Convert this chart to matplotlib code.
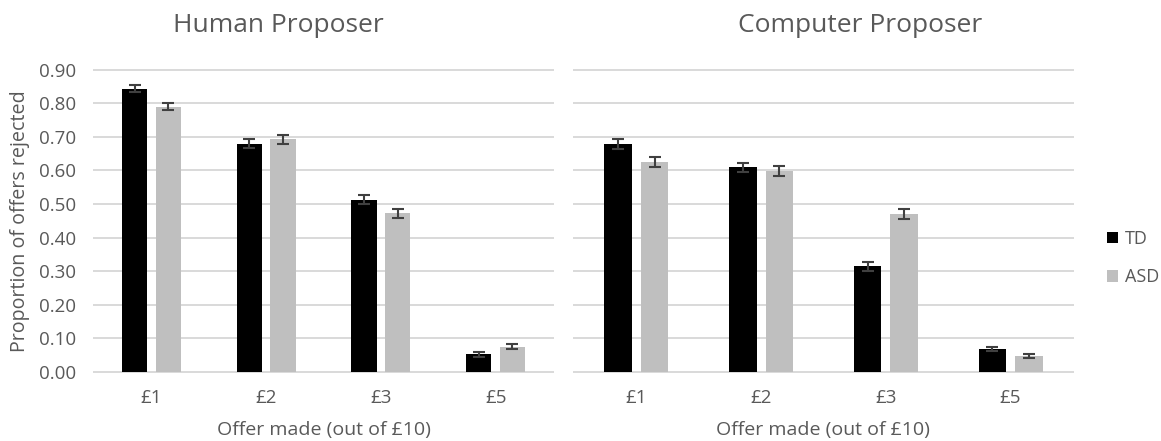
import matplotlib
matplotlib.use("Agg")
import matplotlib.pyplot as plt
import numpy as np

plt.rcParams['font.family'] = ['Open Sans', 'DejaVu Sans']

categories = ['£1', '£2', '£3', '£5']
groups = ['TD', 'ASD']
panel_titles = ['Human Proposer', 'Computer Proposer']
x_label = 'Offer made (out of £10)'
y_label = 'Proportion of offers rejected'
y_ticks = [0.0, 0.1, 0.2, 0.3, 0.4, 0.5, 0.6, 0.7, 0.8, 0.9]

human_td = [0.844, 0.680, 0.513, 0.053]
human_asd = [0.790, 0.693, 0.472, 0.075]
human_td_err = [0.009, 0.013, 0.013, 0.007]
human_asd_err = [0.010, 0.014, 0.014, 0.0075]

computer_td = [0.679, 0.609, 0.315, 0.068]
computer_asd = [0.625, 0.598, 0.470, 0.049]
computer_td_err = [0.014, 0.014, 0.013, 0.0065]
computer_asd_err = [0.015, 0.014, 0.014, 0.006]

TEXT = '#595959'
GRID = '#d9d9d9'
TD_COLOR = '#000000'
ASD_COLOR = '#bfbfbf'
ERR_COLOR = '#404040'

W, H = 1161, 441
fig = plt.figure(figsize=(W / 100, H / 100), dpi=100)
ax_l = fig.add_axes([94 / W, 1 - 372 / H, (553 - 94) / W, (372 - 69.7) / H])
ax_r = fig.add_axes([574 / W, 1 - 372 / H, (1073 - 574) / W, (372 - 69.7) / H])

panels = [
    (ax_l, human_td, human_asd, human_td_err, human_asd_err),
    (ax_r, computer_td, computer_asd, computer_td_err, computer_asd_err),
]

x = np.arange(len(categories))
width = 0.22
off = 0.147

handles = []
for i, (ax, td, asd, td_e, asd_e) in enumerate(panels):
    b1 = ax.bar(x - off, td, width, color=TD_COLOR, zorder=3, label='TD')
    b2 = ax.bar(x + off, asd, width, color=ASD_COLOR, zorder=3, label='ASD')
    ax.errorbar(x - off, td, yerr=td_e, fmt='none', ecolor=ERR_COLOR,
                elinewidth=1.5, capsize=4.5, capthick=1.5, zorder=4)
    ax.errorbar(x + off, asd, yerr=asd_e, fmt='none', ecolor=ERR_COLOR,
                elinewidth=1.5, capsize=4.5, capthick=1.5, zorder=4)
    if i == 0:
        handles = [b1, b2]
    ax.set_xlim(-0.5, len(categories) - 0.5)
    ax.set_ylim(0, 0.9)
    ax.set_yticks(y_ticks)
    ax.yaxis.grid(True, color=GRID, linewidth=1.4, zorder=0)
    for gl in ax.get_ygridlines():
        gl.set_clip_on(False)
    ax.set_axisbelow(True)
    for s in ax.spines.values():
        s.set_visible(False)
    ax.set_xticks(x)
    ax.set_xticklabels(categories)
    ax.tick_params(axis='x', length=0, pad=12.5, labelsize=13.5, labelcolor=TEXT)
    ax.tick_params(axis='y', length=0, pad=13, labelsize=13.5, labelcolor=TEXT)
    if i == 0:
        ax.set_yticklabels([f'{v:.2f}' for v in y_ticks])
    else:
        ax.set_yticklabels([])

fig.text(20 / W, 1 - 221 / H, y_label, rotation=90, ha='center', va='center',
         fontsize=14.2, color=TEXT)

fig.text(278 / W, 1 - 25 / H, panel_titles[0], ha='center', va='center',
         fontsize=19, color=TEXT)
fig.text(860 / W, 1 - 25 / H, panel_titles[1], ha='center', va='center',
         fontsize=19, color=TEXT)

fig.text(323.5 / W, 1 - 430 / H, x_label, ha='center', va='center',
         fontsize=14, color=TEXT)
fig.text(823 / W, 1 - 430 / H, x_label, ha='center', va='center',
         fontsize=14, color=TEXT)

fig.legend(handles, groups, loc='center left',
           bbox_to_anchor=(1107 / W, 1 - 258 / H), frameon=False,
           borderpad=0, borderaxespad=0,
           fontsize=13, labelcolor=TEXT, handlelength=0.6, handleheight=0.6,
           handletextpad=0.4, labelspacing=1.15)

fig.savefig('out.png', dpi=100, facecolor='white')
